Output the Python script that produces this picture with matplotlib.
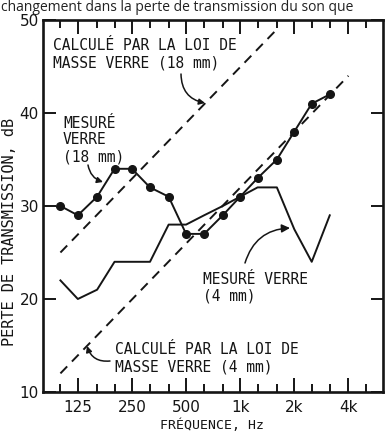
import matplotlib
matplotlib.use("Agg")
import matplotlib.pyplot as plt
from matplotlib.ticker import FixedLocator, FixedFormatter, NullFormatter

# ---- data ----
freqs = [100, 125, 160, 200, 250, 315, 400, 500, 630, 800, 1000, 1250, 1600, 2000, 2500, 3150]
tl_18mm = [30, 29, 31, 34, 34, 32, 31, 27, 27, 29, 31, 33, 35, 38, 41, 42]
tl_4mm = [22, 20, 21, 24, 24, 24, 28, 28, 29, 30, 31, 32, 32, 27.5, 24, 29]
mass_18_freq = [100, 1600]
mass_18_db = [25, 49]
mass_4_freq = [100, 4000]
mass_4_db = [12, 44]
major_ticks = [125, 250, 500, 1000, 2000, 4000]
major_labels = ["125", "250", "500", "1k", "2k", "4k"]
minor_ticks = [100, 160, 200, 315, 400, 630, 800, 1250, 1600, 2500, 3150, 5000]
y_ticks = [10, 20, 30, 40, 50]
y_labels = ["10", "20", "30", "40", "50"]

W, H = 391, 433
fig = plt.figure(figsize=(W / 100, H / 100), dpi=100)
fig.patch.set_facecolor("white")

def px(x, y):
    return (x, H - y)

ax = fig.add_axes([43 / W, 1 - 392 / H, 340 / W, 372 / H])
ax.set_xscale("log")
ax.set_xlim(80, 6230)
ax.set_ylim(10, 50)

mono = "DejaVu Sans Mono"
ink = "#151515"

# lines
ax.plot(freqs, tl_18mm, color=ink, lw=1.4, marker="o", ms=5.5, mfc=ink, mec=ink, zorder=4)
ax.plot(freqs, tl_4mm, color=ink, lw=1.4, zorder=3)
ax.plot(mass_18_freq, mass_18_db, color=ink, lw=1.4, ls=(0, (5, 3.5)), zorder=2)
ax.plot(mass_4_freq, mass_4_db, color=ink, lw=1.4, ls=(0, (5, 3.5)), zorder=2)

# axes styling
for s in ax.spines.values():
    s.set_linewidth(1.9)
    s.set_color(ink)

ax.xaxis.set_major_locator(FixedLocator(major_ticks))
ax.xaxis.set_major_formatter(FixedFormatter(major_labels))
ax.xaxis.set_minor_locator(FixedLocator(minor_ticks))
ax.xaxis.set_minor_formatter(NullFormatter())
ax.yaxis.set_major_locator(FixedLocator(y_ticks))
ax.yaxis.set_major_formatter(FixedFormatter(y_labels))
ax.yaxis.set_minor_locator(FixedLocator([]))

ax.tick_params(axis="x", which="major", direction="in", length=10, width=1.4,
               top=True, bottom=True, labelsize=11, pad=6, colors=ink)
ax.tick_params(axis="x", which="minor", direction="in", length=6, width=1.4,
               top=True, bottom=True, colors=ink)
ax.tick_params(axis="y", which="major", direction="in", length=9, width=1.4,
               left=True, right=True, labelsize=11, pad=3, colors=ink)

# axis labels
fig.text(212 / W, 1 - 425 / H, "FRÉQUENCE, Hz", family=mono, fontsize=9.5,
         ha="center", va="center", color=ink)
fig.text(10 / W, 1 - 232 / H, "PERTE DE TRANSMISSION, dB", family=mono, fontsize=11,
         ha="center", va="center", rotation=90, color=ink)

# annotations
def lab(x, y, s):
    fig.text(x / W, 1 - y / H, s, family=mono, fontsize=10.5, ha="left",
             va="center", color=ink)

lab(53, 46, "CALCULÉ PAR LA LOI DE")
lab(53, 63, "MASSE VERRE (18 mm)")
lab(63, 123, "MESURÉ")
lab(63, 140, "VERRE")
lab(63, 157, "(18 mm)")
lab(203, 279, "MESURÉ VERRE")
lab(203, 296, "(4 mm)")
lab(115, 350, "CALCULÉ PAR LA LOI DE")
lab(115, 367, "MASSE VERRE (4 mm)")

def leader(a, b, rad, head=0.25):
    ax.annotate("", xy=px(*b), xycoords="figure pixels", xytext=px(*a),
                textcoords="figure pixels",
                arrowprops=dict(arrowstyle=f"-|>,head_length={head*1.4},head_width={head*0.7}",
                                connectionstyle=f"arc3,rad={rad}",
                                color=ink, lw=1.1, shrinkA=0, shrinkB=0))

leader((181, 74), (205, 103), 0.4)
leader((88, 165), (103, 182), 0.3)
leader((245, 263), (290, 228), -0.35, 0.35)
leader((110, 361), (87, 346), -0.4)

# page text above the chart
fig.text(0.002, 1 - 11 / H, "changement dans la perte de transmission du son que",
         family="Open Sans", fontsize=10, ha="left", va="baseline", color="#222222")

fig.savefig("out.png", dpi=100, facecolor="white")
